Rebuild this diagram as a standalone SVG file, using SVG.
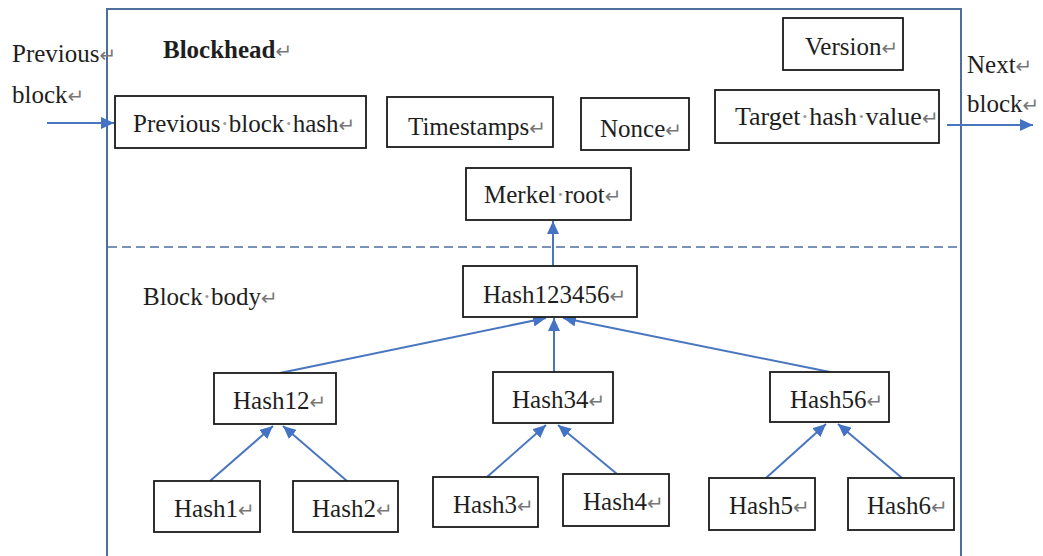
<svg xmlns="http://www.w3.org/2000/svg" width="1043" height="556" viewBox="0 0 1043 556" font-family="'Liberation Serif', 'DejaVu Serif', serif">
<defs>
<style>
.box{fill:#fff;stroke:#1a1a1a;stroke-width:1.8}
.t{font-family:'Liberation Serif','Times New Roman','DejaVu Serif',serif;font-size:25px;fill:#1e1e1e}
.b{font-weight:bold}
.pm{font-family:'DejaVu Sans',sans-serif;font-size:20px;fill:#777;font-weight:normal}
.d{fill:#999}
.frame{fill:none;stroke:#4e6f9e;stroke-width:2}
.dash{fill:none;stroke:#4e6f9e;stroke-width:1.6;stroke-dasharray:9 5}
.c{fill:none;stroke:#4a76c0;stroke-width:2;marker-end:url(#ah)}
</style>
<marker id="ah" markerUnits="userSpaceOnUse" markerWidth="14" markerHeight="12" refX="13" refY="6" orient="auto">
<path d="M0,0 L13,6 L0,12 z" fill="#4472c4"/>
</marker>
</defs>
<rect width="1043" height="556" fill="#fff"/>
<g id="frame">
<path class="frame" d="M107,556 V9 H961 V556"/>
<path class="dash" d="M108,247 H962"/>
</g>
<g id="labels">
<text class="t" x="12" y="62">Previous<tspan class="pm">↵</tspan></text>
<text class="t" x="12" y="103">block<tspan class="pm">↵</tspan></text>
<text class="t b" x="163" y="58">Blockhead<tspan class="pm">↵</tspan></text>
<text class="t" x="967" y="73">Next<tspan class="pm">↵</tspan></text>
<text class="t" x="967" y="112">block<tspan class="pm">↵</tspan></text>
<text class="t" x="143" y="305">Block<tspan class="d">·</tspan>body<tspan class="pm">↵</tspan></text>
</g>
<g id="connectors">
<line class="c" x1="47" y1="123" x2="114" y2="123"/>
<line class="c" x1="947" y1="125" x2="1033" y2="125"/>
<line class="c" x1="553" y1="266" x2="553" y2="221"/>
<line class="c" x1="280" y1="373" x2="546" y2="318"/>
<line class="c" x1="554" y1="372" x2="554" y2="318"/>
<line class="c" x1="830" y1="372" x2="563" y2="318"/>
<line class="c" x1="210" y1="481" x2="273" y2="426"/>
<line class="c" x1="347" y1="481" x2="283" y2="426"/>
<line class="c" x1="487" y1="477" x2="546" y2="425"/>
<line class="c" x1="617" y1="474" x2="558" y2="425"/>
<line class="c" x1="766" y1="478" x2="826" y2="424"/>
<line class="c" x1="902" y1="478" x2="838" y2="424"/>
</g>
<g id="prev-hash"><rect class="box" x="115" y="96" width="251" height="52"/><text class="t" x="133" y="132">Previous<tspan class="d">·</tspan>block<tspan class="d">·</tspan>hash<tspan class="pm">↵</tspan></text></g>
<g id="timestamps"><rect class="box" x="387" y="97" width="166" height="50"/><text class="t" x="408" y="135">Timestamps<tspan class="pm">↵</tspan></text></g>
<g id="nonce"><rect class="box" x="581" y="98" width="108" height="52"/><text class="t" x="600" y="137">Nonce<tspan class="pm">↵</tspan></text></g>
<g id="target"><rect class="box" x="715" y="90" width="224" height="53"/><text class="t" x="735" y="125" style="font-size:26px">Target<tspan class="d">·</tspan>hash<tspan class="d">·</tspan>value<tspan class="pm">↵</tspan></text></g>
<g id="version"><rect class="box" x="783" y="18" width="120" height="52"/><text class="t" x="805" y="55">Version<tspan class="pm">↵</tspan></text></g>
<g id="merkel-root"><rect class="box" x="466" y="168" width="165" height="52"/><text class="t" x="484" y="203">Merkel<tspan class="d">·</tspan>root<tspan class="pm">↵</tspan></text></g>
<g id="hash123456"><rect class="box" x="463" y="266" width="174" height="51"/><text class="t" x="483" y="303">Hash123456<tspan class="pm">↵</tspan></text></g>
<g id="hash12"><rect class="box" x="214" y="373" width="122" height="51"/><text class="t" x="233" y="409">Hash12<tspan class="pm">↵</tspan></text></g>
<g id="hash34"><rect class="box" x="493" y="372" width="120" height="51"/><text class="t" x="512" y="408">Hash34<tspan class="pm">↵</tspan></text></g>
<g id="hash56"><rect class="box" x="770" y="372" width="119" height="50"/><text class="t" x="790" y="408">Hash56<tspan class="pm">↵</tspan></text></g>
<g id="hash1"><rect class="box" x="154" y="481" width="106" height="51"/><text class="t" x="174" y="517">Hash1<tspan class="pm">↵</tspan></text></g>
<g id="hash2"><rect class="box" x="293" y="481" width="105" height="51"/><text class="t" x="312" y="517">Hash2<tspan class="pm">↵</tspan></text></g>
<g id="hash3"><rect class="box" x="433" y="477" width="105" height="50"/><text class="t" x="453" y="513">Hash3<tspan class="pm">↵</tspan></text></g>
<g id="hash4"><rect class="box" x="563" y="474" width="106" height="52"/><text class="t" x="583" y="510">Hash4<tspan class="pm">↵</tspan></text></g>
<g id="hash5"><rect class="box" x="709" y="478" width="106" height="52"/><text class="t" x="729" y="514">Hash5<tspan class="pm">↵</tspan></text></g>
<g id="hash6"><rect class="box" x="848" y="478" width="106" height="52"/><text class="t" x="867" y="514">Hash6<tspan class="pm">↵</tspan></text></g>
</svg>
